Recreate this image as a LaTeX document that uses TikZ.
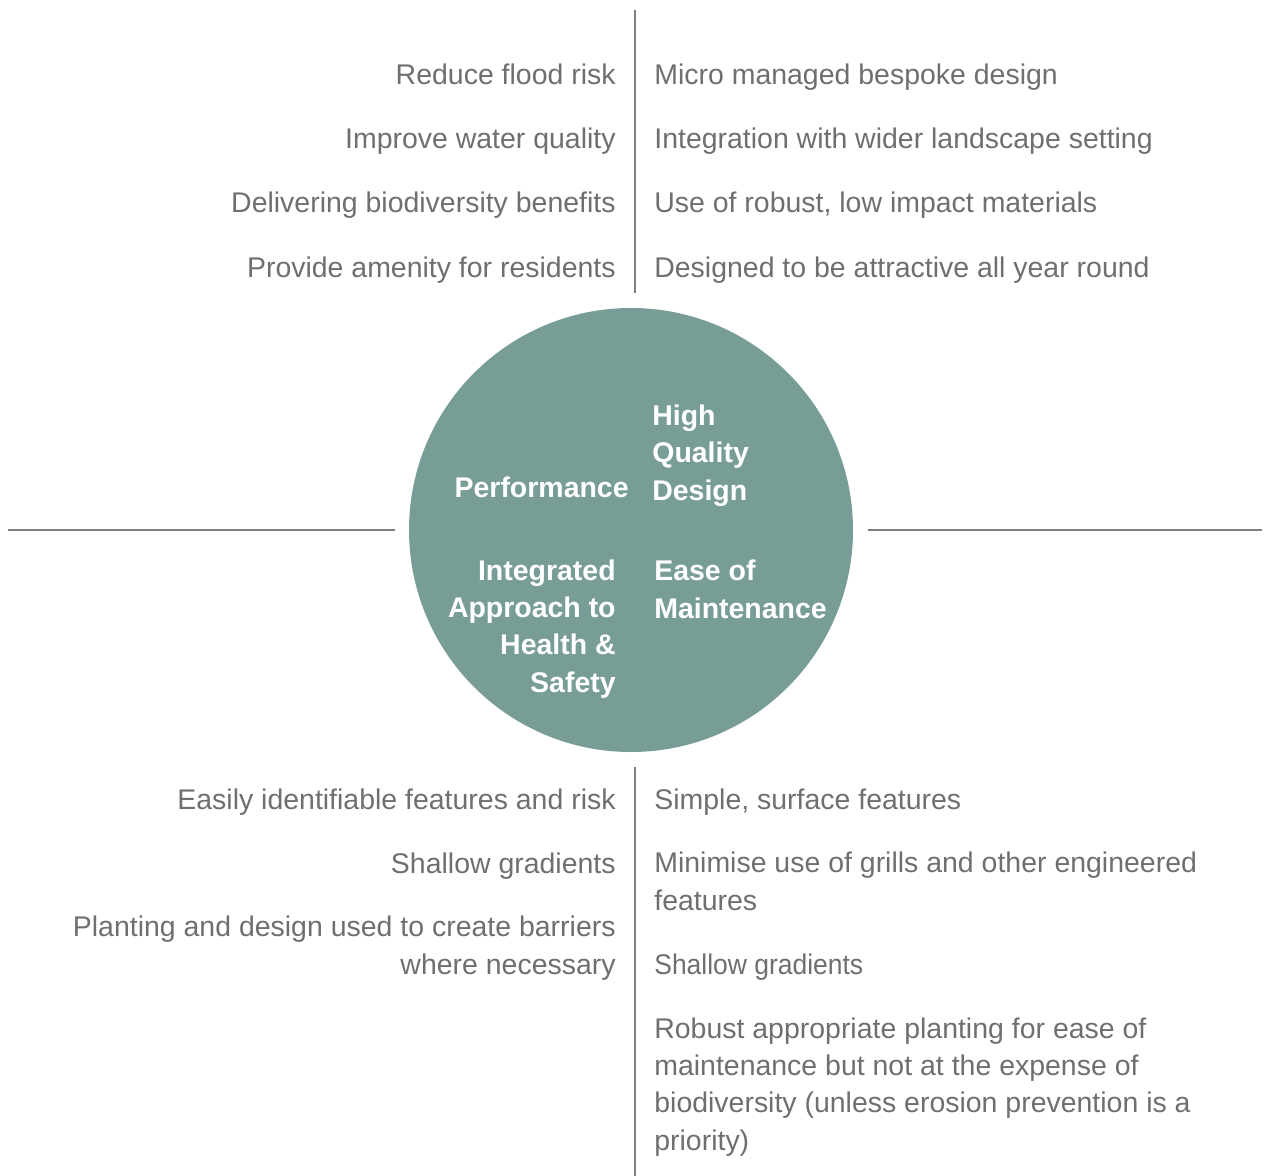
\documentclass[tikz,border=0pt]{standalone}
\usepackage{graphicx}
\usepackage{fontspec}
\setmainfont{Liberation Sans}
\definecolor{txtgrey}{HTML}{6F6F6F}
\definecolor{rulegrey}{HTML}{7F7F7F}
\definecolor{sage}{HTML}{789D97}

\begin{document}
\begin{tikzpicture}[x=0.02cm,y=-0.02cm,
  every node/.style={inner sep=0pt,font=\fontsize{16.2pt}{21.1pt}\selectfont},
  lefttext/.style={anchor=base east,align=right,text=txtgrey},
  righttext/.style={anchor=base west,align=left,text=txtgrey},
  inleft/.style={anchor=base east,align=right,text=white,font=\fontsize{16.2pt}{21.1pt}\selectfont\bfseries},
  inright/.style={anchor=base west,align=left,text=white,font=\fontsize{16.2pt}{21.1pt}\selectfont\bfseries},
  rule/.style={draw=rulegrey,line width=1.5pt}]
\useasboundingbox (0,0) rectangle (1272,1176);
% axes
\coordinate (topA) at (635,10);
\coordinate (topB) at (635,293);
\coordinate (botA) at (635,767);
\coordinate (botB) at (635,1176);
\coordinate (leftA) at (8,530);
\coordinate (leftB) at (395,530);
\coordinate (rightA) at (868,530);
\coordinate (rightB) at (1262,530);
\draw[rule] (topA) -- (topB);
\draw[rule] (botA) -- (botB);
\draw[rule] (leftA) -- (leftB);
\draw[rule] (rightA) -- (rightB);
% centre (base = last line)
\node[circle,fill=sage,minimum size=0.02cm*444] (hub) at (631,530) {};
\node[inleft] (perf) at (629,497) {Performance};
\node[inright] (hqd) at (652,500) {High\\Quality\\Design};
\node[inleft] (health) at (616,692) {Integrated\\Approach to\\Health \&\\Safety};
\node[inright] (maint) at (654,618) {Ease of\\Maintenance};
% performance
\node[lefttext] (perfA) at (616,85) {Reduce flood risk};
\node[lefttext] (perfB) at (616,149) {Improve water quality};
\node[lefttext] (perfC) at (616,213) {Delivering biodiversity benefits};
\node[lefttext] (perfD) at (616,277) {Provide amenity for residents};
% design
\node[righttext] (hqdA) at (654,85) {Micro managed bespoke design};
\node[righttext] (hqdB) at (654,149) {Integration with wider landscape setting};
\node[righttext] (hqdC) at (654,213) {Use of robust, low impact materials};
\node[righttext] (hqdD) at (654,277) {Designed to be attractive all year round};
% health and safety
\node[lefttext] (healthA) at (616,809) {Easily identifiable features and risk};
\node[lefttext] (healthB) at (616,873) {Shallow gradients};
\node[lefttext] (healthC) at (616,974) {Planting and design used to create barriers\\where necessary};
% maintenance
\node[righttext] (maintA) at (654,809) {Simple, surface features};
\node[righttext] (maintB) at (654,910) {Minimise use of grills and other engineered\\features};
\node[righttext] (maintC) at (654,974) {\scalebox{0.93}[1]{Shallow gradients}};
\node[righttext] (maintD) at (654,1150) {Robust appropriate planting for ease of\\maintenance but not at the expense of\\biodiversity (unless erosion prevention is a\\priority)};
\end{tikzpicture}
\end{document}
